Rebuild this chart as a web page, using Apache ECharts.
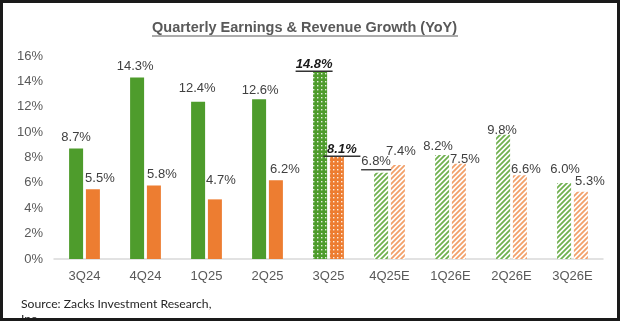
<!DOCTYPE html>
<html><head><meta charset="utf-8">
<script src="https://cdn.jsdelivr.net/npm/echarts@6/dist/echarts.min.js"></script>
<style>
html,body{margin:0;padding:0;background:#fff;}
#c{width:620px;height:321px;position:absolute;left:0;top:0;}
#frame{position:absolute;left:0;top:0;width:620px;height:321px;box-sizing:border-box;border:3px solid #1a1a1a;pointer-events:none;}
</style></head>
<body><div id="c"></div><div id="frame"></div>
<script>
// ---- data ----
const categories = ['3Q24','4Q24','1Q25','2Q25','3Q25','4Q25E','1Q26E','2Q26E','3Q26E'];
const earningsGrowth = [8.7, 14.3, 12.4, 12.6, 14.8, 6.8, 8.2, 9.8, 6.0];
const revenueGrowth  = [5.5, 5.8, 4.7, 6.2, 8.1, 7.4, 7.5, 6.6, 5.3];
const yTicks = [0, 2, 4, 6, 8, 10, 12, 14, 16];
const currentIndex = 4;      // 3Q25 (dotted, bold labels)
const firstEstimate = 5;     // 4Q25E onward (striped)

// ---- styles ----
const GREEN = '#4e9c2c', ORANGE = '#ed7d31';
function dots(base){
  const c=document.createElement('canvas'); c.width=4; c.height=4;
  const g=c.getContext('2d'); g.fillStyle=base; g.fillRect(0,0,4,4);
  g.fillStyle='rgba(255,255,255,0.85)'; g.fillRect(1,1,1.4,1.4);
  return {image:c, repeat:'repeat'};
}
function stripes(col){
  const s=5, c=document.createElement('canvas'); c.width=s; c.height=s;
  const g=c.getContext('2d'); g.fillStyle='#ffffff'; g.fillRect(0,0,s,s);
  g.strokeStyle=col; g.lineWidth=1.8;
  g.beginPath();
  g.moveTo(0,s); g.lineTo(s,0);
  g.moveTo(-1,1); g.lineTo(1,-1);
  g.moveTo(s-1,s+1); g.lineTo(s+1,s-1);
  g.stroke();
  return {image:c, repeat:'repeat'};
}
// label offsets relative to default top label
const earnOff = [[0,0],[-2,0],[-1,-2],[1,2],[-6,3],[-5,0],[-4,2],[-1,7],[1,-2]];
const revOff  = [[7,0],[8,0],[6,-8],[9,0],[5,3],[3,-3],[6,7],[6,5],[9,1]];
const underlined = {earn:[4,5], rev:[4]};

function buildData(vals, base, stripeCol, offs, ul){
  return vals.map((v,i)=>{
    let color = base;
    if(i===currentIndex) color = dots(base);
    else if(i>=firstEstimate) color = stripes(stripeCol);
    const isUl = ul.indexOf(i)>=0;
    const bold = i===currentIndex;
    const txt = v.toFixed(1)+'%';
    return {
      value:v,
      itemStyle:{color:color},
      label:{
        offset:offs[i],
        formatter: isUl ? ('{' + (bold?'b':'n') + '|' + txt + '}\n{' + (bold?'ub':'un') + '| }') : '{n|' + txt + '}',
        distance: isUl ? 2 : 4
      }
    };
  });
}
const rich = {
  n:{fontFamily:'Liberation Sans',fontSize:13,color:'#404040',lineHeight:14,align:'center'},
  b:{fontFamily:'Liberation Sans',fontSize:13,fontWeight:'bold',fontStyle:'italic',color:'#1a1a1a',lineHeight:12,align:'center'},
  ub:{width:37,height:1.5,lineHeight:2,backgroundColor:'#333',fontSize:1,align:'center'},
  un:{width:30,height:1.5,lineHeight:2,backgroundColor:'#444',fontSize:1,align:'center'}
};

const chart = echarts.init(document.getElementById('c'), null, {renderer:'canvas'});
chart.setOption({
  animation:false,
  backgroundColor:'#ffffff',
  title:[{
    text:'{t|Quarterly Earnings & Revenue Growth (YoY)}\n{u| }',
    left:147, top:15,
    textStyle:{rich:{
      t:{fontFamily:'Liberation Sans',fontSize:14.5,fontWeight:'bold',color:'#595959',lineHeight:15},
      u:{width:306,height:1.2,lineHeight:2,backgroundColor:'#595959',fontSize:1}
    }}
  },{
    text:'Source: Zacks Investment Research,\nInc.',
    left:16, top:292,
    textStyle:{fontFamily:'Lato',fontSize:12.2,fontWeight:'normal',color:'#262626',lineHeight:15}
  }],
  grid:{left:54,right:17,top:56,bottom:62,containLabel:false},
  xAxis:{
    type:'category', data:categories,
    axisLine:{lineStyle:{color:'#d9d9d9',width:1.5}},
    axisTick:{show:false},
    axisLabel:{color:'#595959',fontFamily:'Liberation Sans',fontSize:13,margin:11}
  },
  yAxis:{
    type:'value', min:yTicks[0], max:yTicks[yTicks.length-1], interval:2,
    axisLine:{show:false}, axisTick:{show:false}, splitLine:{show:false},
    axisLabel:{color:'#595959',fontFamily:'Liberation Sans',fontSize:13,margin:11,formatter:'{value}%'}
  },
  series:[{
    name:'Earnings', type:'bar', barWidth:14, barGap:'20%',
    data:buildData(earningsGrowth, GREEN, '#6fb04e', earnOff, underlined.earn),
    label:{show:true,position:'top',rich:rich}
  },{
    name:'Revenue', type:'bar', barWidth:14,
    data:buildData(revenueGrowth, ORANGE, '#f2a06a', revOff, underlined.rev),
    label:{show:true,position:'top',rich:rich}
  }]
});
</script></body></html>
